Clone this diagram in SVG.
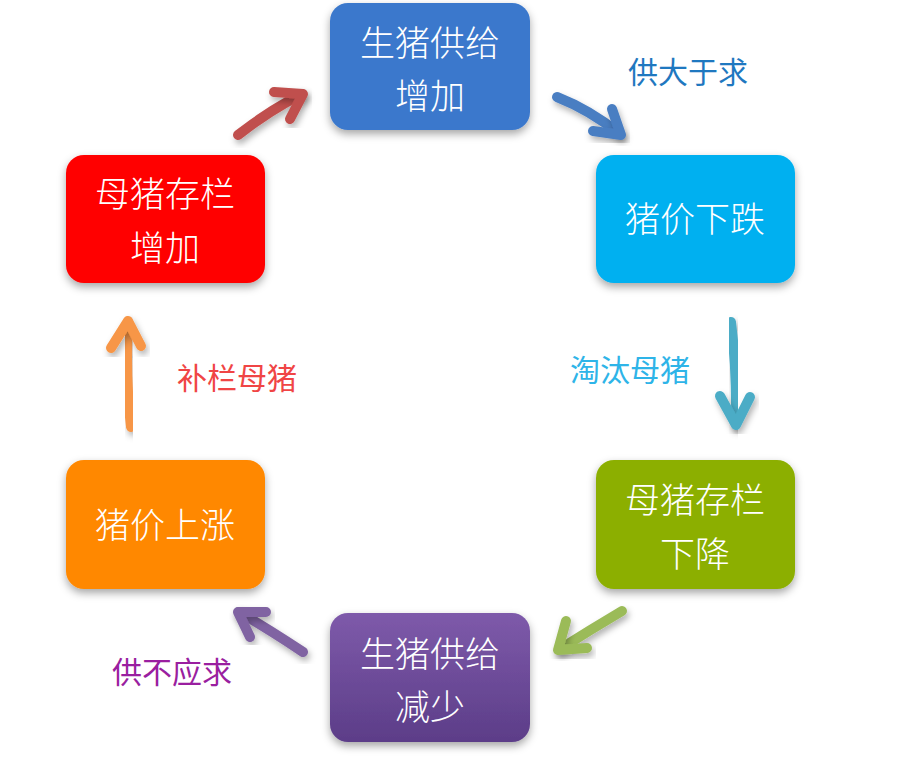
<svg xmlns="http://www.w3.org/2000/svg" width="915" height="768" viewBox="0 0 915 768">
<defs>
<filter id="sh" x="-20%" y="-20%" width="140%" height="150%">
<feDropShadow dx="0" dy="4" stdDeviation="4" flood-color="#000" flood-opacity="0.35"/>
</filter>
<filter id="ash" x="-30%" y="-30%" width="160%" height="160%">
<feDropShadow dx="2" dy="4" stdDeviation="3" flood-color="#000" flood-opacity="0.3"/>
</filter>
<linearGradient id="pg" x1="0" y1="0" x2="0" y2="1">
<stop offset="0" stop-color="#7E5AAA"/>
<stop offset="1" stop-color="#5C3D88"/>
</linearGradient>
<style>
.box{filter:url(#sh)}
.t{font-family:"Noto Sans CJK SC","Noto Sans",sans-serif;font-size:35px;font-weight:300;fill:#fff;text-anchor:middle}
.lb{font-family:"Noto Sans CJK SC","Noto Sans",sans-serif;font-size:30px;text-anchor:middle}
.ar{fill:none;stroke-width:10;stroke-linecap:round;stroke-linejoin:round;filter:url(#ash)}
</style>
</defs>
<rect width="915" height="768" fill="#fff"/>
<g id="n1"><rect class="box" x="330" y="3" width="200" height="127" rx="18" fill="#3B78CC"/>
<text class="t" x="430" y="56">生猪供给</text><text class="t" x="430" y="109">增加</text></g>
<g id="n2"><rect class="box" x="596" y="155" width="199" height="128" rx="18" fill="#00B0F0"/>
<text class="t" x="695" y="232">猪价下跌</text></g>
<g id="n3"><rect class="box" x="596" y="460" width="199" height="129" rx="18" fill="#8CAF00"/>
<text class="t" x="695" y="513">母猪存栏</text><text class="t" x="695" y="567">下降</text></g>
<g id="n4"><rect class="box" x="330" y="613" width="200" height="129" rx="18" fill="url(#pg)"/>
<text class="t" x="430" y="667">生猪供给</text><text class="t" x="430" y="720">减少</text></g>
<g id="n5"><rect class="box" x="66" y="460" width="199" height="129" rx="18" fill="#FF8800"/>
<text class="t" x="165" y="538">猪价上涨</text></g>
<g id="n6"><rect class="box" x="66" y="155" width="199" height="128" rx="18" fill="#FF0000"/>
<text class="t" x="165" y="207">母猪存栏</text><text class="t" x="165" y="261">增加</text></g>
<g id="connectors">
<g stroke="#4A7EC2"><path class="ar" d="M557 97 Q590 110 620 134"/><path class="ar" d="M593 131 L621 135 L612 109"/></g>
<g stroke="#4BACC6"><path class="ar" d="M731 322 Q737 370 736 424"/><path class="ar" d="M720 396 L736 425 L750 397"/></g>
<g stroke="#9BBB59"><path class="ar" d="M622 611 Q590 630 560 649"/><path class="ar" d="M566 621 L558 650 L587 648"/></g>
<g stroke="#8064A2"><path class="ar" d="M303 652 Q270 630 239 612"/><path class="ar" d="M266 612 L238 612 L250 637"/></g>
<g stroke="#F79646"><path class="ar" d="M131 427 Q125 375 128 322"/><path class="ar" d="M111 348 L128 321 L141 346"/></g>
<g stroke="#C0504D"><path class="ar" d="M238 135 Q270 110 302 94"/><path class="ar" d="M274 92 L303 94 L290 119"/></g>
</g>
<text class="lb" x="688" y="83" fill="#1F78C0">供大于求</text>
<text class="lb" x="630" y="381" fill="#2EB4E8">淘汰母猪</text>
<text class="lb" x="172" y="683" fill="#9A1FA0">供不应求</text>
<text class="lb" x="237" y="389" fill="#F04545">补栏母猪</text>
</svg>
